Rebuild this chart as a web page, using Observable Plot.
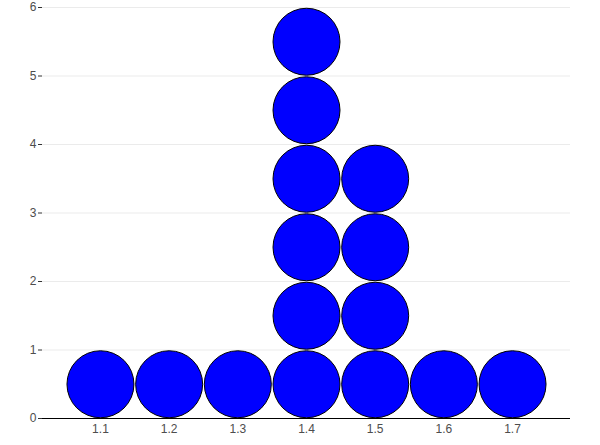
<!DOCTYPE html>
<html><head><meta charset="utf-8">
<script src="https://cdn.jsdelivr.net/npm/d3@7"></script>
<script src="https://cdn.jsdelivr.net/npm/@observablehq/plot@0.6"></script>
<style>body{margin:0;background:#fff;} svg{display:block;}</style>
</head><body><div id="chart"></div>
<script>
const xValues = [1.1, 1.2, 1.3, 1.4, 1.5, 1.6, 1.7];
const counts = [1, 1, 1, 6, 4, 1, 1];
const yTicks = [0, 1, 2, 3, 4, 5, 6];

const dots = [];
xValues.forEach((x, i) => { for (let k = 0; k < counts[i]; k++) dots.push({x, y: k + 0.5}); });

const chart = Plot.plot({
  width: 600, height: 445,
  marginTop: 7, marginBottom: 27, marginLeft: 42, marginRight: 30,
  style: {fontFamily: "'Liberation Sans', Arial, sans-serif", fontSize: "12px", background: "#fff"},
  x: {domain: [1.0156, 1.7844], label: null},
  y: {domain: [0, 6], label: null},
  marks: [
    Plot.gridY(yTicks, {stroke: "#ebebeb", strokeOpacity: 1, strokeWidth: 1}),
    Plot.axisY(yTicks, {tickSize: 4, tickPadding: 2, stroke: "#333", color: "#4d4d4d", fontSize: 12, tickFormat: d => String(d)}),
    Plot.axisX(xValues, {tickSize: 0, tickPadding: 6, color: "#4d4d4d", fontSize: 12, tickFormat: d => d.toFixed(1)}),
    Plot.dot(dots, {x: "x", y: "y", r: 33.5, fill: "#0000ff", stroke: "#000", strokeWidth: 1}),
    Plot.ruleY([0], {stroke: "#000", strokeWidth: 1.2})
  ]
});
document.getElementById("chart").appendChild(chart);
</script></body></html>
